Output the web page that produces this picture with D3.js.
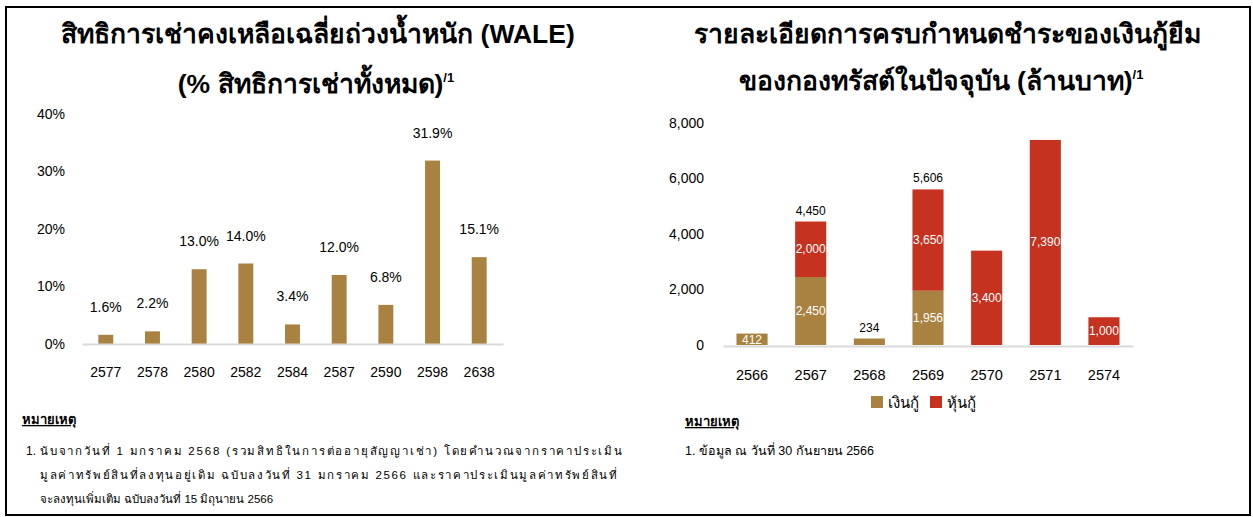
<!DOCTYPE html>
<html>
<head>
<meta charset="utf-8">
<script src="https://cdn.jsdelivr.net/npm/d3@7"></script>
<style>
  body { margin: 0; background: #fff; }
  svg { font-family: "Liberation Sans", Arial, sans-serif; }
</style>
</head>
<body>
<div id="chart"></div>
<script>
// WALE data (left)
const waleYears = ["2577", "2578", "2580", "2582", "2584", "2587", "2590", "2598", "2638"];
const waleValues = [1.6, 2.2, 13.0, 14.0, 3.4, 12.0, 6.8, 31.9, 15.1];
const waleTicks = [0, 10, 20, 30, 40];

// Debt maturity data (right)
const debtYears = ["2566", "2567", "2568", "2569", "2570", "2571", "2574"];
const loanValues = [412, 2450, 234, 1956, 0, 0, 0];
const bondValues = [0, 2000, 0, 3650, 3400, 7390, 1000];
const debtTicks = [0, 2000, 4000, 6000, 8000];
const seriesNames = ["เงินกู้", "หุ้นกู้"];

const gold = "#A98241";
const red = "#C5321F";

const svg = d3.select("#chart").append("svg")
    .attr("width", 1253)
    .attr("height", 517);

// outer frame
svg.append("rect")
    .attr("x", 6).attr("y", 7)
    .attr("width", 1244).attr("height", 508)
    .attr("fill", "none")
    .attr("stroke", "#000")
    .attr("stroke-width", 2);

// ---------- Left chart ----------
const title1 = svg.append("text")
    .attr("text-anchor", "middle")
    .style("font-size", "26.5px").style("font-weight", "bold");
title1.append("tspan").attr("x", 318).attr("y", 43).text("สิทธิการเช่าคงเหลือเฉลี่ยถ่วงน้ำหนัก (WALE)");
title1.append("tspan").attr("x", 316).attr("y", 93).text("(% สิทธิการเช่าทั้งหมด)");
title1.append("tspan").attr("dy", -11).style("font-size", "13px").text("/1");

const xL = d3.scaleBand()
    .domain(waleYears)
    .range([82, 503])
    .paddingInner(0.68)
    .paddingOuter(0.35);

const yL = d3.scaleLinear()
    .domain([0, 40])
    .range([344, 114]);

const gL = svg.append("g");

gL.append("g")
    .attr("transform", "translate(65,0)")
    .call(d3.axisLeft(yL).tickValues(waleTicks).tickFormat(d => d + "%").tickSize(0).tickPadding(0))
    .call(g => g.select(".domain").remove())
    .call(g => g.selectAll("text").style("font-size", "14px").attr("fill", "#000")
        .style("font-family", "'Liberation Sans', Arial, sans-serif"));

gL.selectAll("rect.bar")
    .data(waleValues)
    .join("rect")
    .attr("class", "bar")
    .attr("x", (d, i) => xL(waleYears[i]))
    .attr("y", d => yL(d))
    .attr("width", xL.bandwidth())
    .attr("height", d => yL(0) - yL(d))
    .attr("fill", gold);

gL.append("g")
    .attr("transform", `translate(0,${yL(0)})`)
    .call(d3.axisBottom(xL).tickSize(0).tickPadding(23))
    .call(g => g.select(".domain").attr("stroke", "#d9d9d9").attr("stroke-width", 2))
    .call(g => g.selectAll("text").style("font-size", "14px").attr("fill", "#000")
        .style("font-family", "'Liberation Sans', Arial, sans-serif"));

gL.selectAll("text.val")
    .data(waleValues)
    .join("text")
    .attr("class", "val")
    .attr("x", (d, i) => xL(waleYears[i]) + xL.bandwidth() / 2)
    .attr("y", d => yL(d) - 23)
    .attr("text-anchor", "middle")
    .style("font-size", "14px")
    .text(d => d.toFixed(1) + "%");

// notes left
svg.append("text")
    .attr("x", 22).attr("y", 424)
    .style("font-size", "13px").style("font-weight", "bold")
    .style("text-decoration", "underline")
    .text("หมายเหตุ");
svg.append("text")
    .attr("x", 26).attr("y", 455)
    .style("font-size", "12px")
    .text("1.");
const noteL = [
    "นับจากวันที่ 1 มกราคม 2568 (รวมสิทธิในการต่ออายุสัญญาเช่า) โดยคำนวณจากราคาประเมิน",
    "มูลค่าทรัพย์สินที่ลงทุนอยู่เดิม ฉบับลงวันที่ 31 มกราคม 2566 และราคาประเมินมูลค่าทรัพย์สินที่",
    "จะลงทุนเพิ่มเติม ฉบับลงวันที่ 15 มิถุนายน 2566"
];
const noteEnds = [622, 617, null]; // justified (distributed) line ends
const seg = (typeof Intl !== "undefined" && Intl.Segmenter) ? new Intl.Segmenter("th", { granularity: "grapheme" }) : null;
svg.selectAll("text.noteL")
    .data(noteL)
    .join("text")
    .attr("class", "noteL")
    .attr("x", 40)
    .attr("y", (d, i) => 455 + i * 24)
    .style("font-size", "11.5px")
    .text(d => d)
    .each(function (d, i) {
        if (!noteEnds[i]) return;
        const w = this.getComputedTextLength();
        const n = seg ? Array.from(seg.segment(d)).length : d.length;
        const extra = (noteEnds[i] - 40 - w) / (n - 1);
        if (extra > 0) d3.select(this).style("letter-spacing", extra + "px");
    });

// ---------- Right chart ----------
const title2 = svg.append("text")
    .attr("text-anchor", "middle")
    .style("font-size", "26.5px").style("font-weight", "bold");
title2.append("tspan").attr("x", 947).attr("y", 43).text("รายละเอียดการครบกำหนดชำระของเงินกู้ยืม");
title2.append("tspan").attr("x", 941).attr("y", 90).text("ของกองทรัสต์ในปัจจุบัน (ล้านบาท)");
title2.append("tspan").attr("dy", -11).style("font-size", "13px").text("/1");

const xR = d3.scaleBand()
    .domain(debtYears)
    .range([723, 1133])
    .paddingInner(0.47)
    .paddingOuter(0.23);

const yR = d3.scaleLinear()
    .domain([0, 8000])
    .range([345, 123]);

const stackData = debtYears.map((y, i) => ({ year: y, loan: loanValues[i], bond: bondValues[i] }));
const stacked = d3.stack().keys(["loan", "bond"])(stackData);
const colors = [gold, red];

const gR = svg.append("g");

gR.append("g")
    .attr("transform", "translate(704,0)")
    .call(d3.axisLeft(yR).tickValues(debtTicks).tickFormat(d3.format(",")).tickSize(0).tickPadding(0))
    .call(g => g.select(".domain").remove())
    .call(g => g.selectAll("text").style("font-size", "14px").attr("fill", "#000")
        .style("font-family", "'Liberation Sans', Arial, sans-serif"));

gR.selectAll("g.layer")
    .data(stacked)
    .join("g")
    .attr("class", "layer")
    .attr("fill", (d, i) => colors[i])
    .selectAll("rect")
    .data(d => d.filter(s => s[1] - s[0] > 0))
    .join("rect")
    .attr("x", d => xR(d.data.year))
    .attr("y", d => yR(d[1]))
    .attr("width", xR.bandwidth())
    .attr("height", d => yR(d[0]) - yR(d[1]));

gR.append("g")
    .attr("transform", `translate(0,${yR(0) + 1})`)
    .call(d3.axisBottom(xR).tickSize(0).tickPadding(24))
    .call(g => g.select(".domain").attr("stroke", "#d9d9d9").attr("stroke-width", 2))
    .call(g => g.selectAll("text").style("font-size", "14.5px").attr("fill", "#000")
        .style("font-family", "'Liberation Sans', Arial, sans-serif"));

// segment labels (inside, white) - the small 234 sits above its bar
const segLabels = [];
stacked.forEach(layer => layer.forEach(s => {
    const v = s[1] - s[0];
    if (v > 300) segLabels.push({ year: s.data.year, v: v, mid: (s[0] + s[1]) / 2 });
}));
gR.selectAll("text.seg")
    .data(segLabels)
    .join("text")
    .attr("class", "seg")
    .attr("x", d => xR(d.year) + xR.bandwidth() / 2)
    .attr("y", d => d.v < 500 ? yR(0) - 1 : yR(d.mid) + 4)
    .attr("text-anchor", "middle")
    .attr("fill", "#fff")
    .style("font-size", "12px")
    .text(d => d3.format(",")(d.v));

// total labels above bars
const totals = stackData
    .map(d => ({ year: d.year, total: d.loan + d.bond, both: d.loan > 0 && d.bond > 0, small: d.loan + d.bond < 300 }))
    .filter(d => d.both || d.small);
gR.selectAll("text.tot")
    .data(totals)
    .join("text")
    .attr("class", "tot")
    .attr("x", d => xR(d.year) + xR.bandwidth() / 2)
    .attr("y", d => yR(d.total) - 7)
    .attr("text-anchor", "middle")
    .style("font-size", "12px")
    .text(d => d3.format(",")(d.total));

// legend
const legend = svg.append("g");
const legX = [871, 930];
seriesNames.forEach((n, i) => {
    legend.append("rect")
        .attr("x", legX[i]).attr("y", 396)
        .attr("width", 12).attr("height", 12)
        .attr("fill", colors[i]);
    legend.append("text")
        .attr("x", legX[i] + 17).attr("y", 408)
        .style("font-size", "15px")
        .text(n);
});

// notes right
svg.append("text")
    .attr("x", 685).attr("y", 426)
    .style("font-size", "13px").style("font-weight", "bold")
    .style("text-decoration", "underline")
    .text("หมายเหตุ");
svg.append("text")
    .attr("x", 685).attr("y", 455)
    .style("font-size", "12.5px")
    .text("1.  ข้อมูล ณ วันที่ 30 กันยายน 2566");
</script>
</body>
</html>
